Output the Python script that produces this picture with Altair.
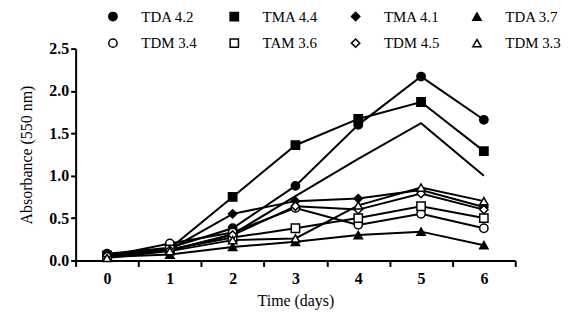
import altair as alt
import pandas as pd

days = [0, 1, 2, 3, 4, 5, 6]
names = ["TDA 4.2", "TMA 4.4", "TMA 4.1", "TDA 3.7", "TDM 3.4", "TAM 3.6", "TDM 4.5", "TDM 3.3"]
tda42 = [0.08, 0.15, 0.38, 0.88, 1.60, 2.17, 1.66]
tma44 = [0.06, 0.14, 0.75, 1.36, 1.67, 1.87, 1.29]
tma41 = [0.05, 0.13, 0.55, 0.70, 0.73, 0.83, 0.63]
tda37 = [0.04, 0.07, 0.16, 0.22, 0.30, 0.34, 0.18]
tdm34 = [0.05, 0.20, 0.33, 0.62, 0.42, 0.55, 0.38]
tam36 = [0.04, 0.13, 0.27, 0.38, 0.50, 0.64, 0.50]
tdm45 = [0.06, 0.12, 0.30, 0.64, 0.60, 0.79, 0.60]
tdm33 = [0.03, 0.11, 0.24, 0.26, 0.65, 0.86, 0.70]
unmarked = [0.05, 0.12, 0.31, 0.76, 1.20, 1.62, 1.00]

series = [tda42, tma44, tma41, tda37, tdm34, tam36, tdm45, tdm33]
shapes = ["circle", "square", "diamond", "triangle-up"] * 2
fills = ["black"] * 4 + ["white"] * 4

rows = []
for n, vals in zip(names, series):
    for d, v in zip(days, vals):
        rows.append({"day": d, "value": v, "series": n})
pts = pd.DataFrame(rows)
line_rows = rows + [{"day": d, "value": v, "series": "unlabelled"} for d, v in zip(days, unmarked)]
lines_df = pd.DataFrame(line_rows)

def arr(lst):
    return "[" + ",".join("'" + s + "'" for s in lst) + "]"

fill_expr = arr(fills) + "[indexof(" + arr(names) + ", datum.value)]"

FONT = "Liberation Serif"

xenc = alt.X(
    "day:O",
    scale=alt.Scale(type="band", paddingInner=0, paddingOuter=0),
    axis=alt.Axis(
        title="Time (days)", tickBand="extent", labelAngle=0,
        labelFontWeight="bold", labelFontSize=16, labelFont=FONT, labelColor="black",
        titleFont=FONT, titleFontSize=16, titleFontWeight="normal", titleColor="black",
        titlePadding=6, labelPadding=4, tickSize=6, tickWidth=2, domainWidth=2,
        tickColor="black", domainColor="black",
    ),
)
yenc = alt.Y(
    "value:Q",
    scale=alt.Scale(domain=[0, 2.5], nice=False),
    axis=alt.Axis(
        title="Absorbance (550 nm)", values=[0, 0.5, 1.0, 1.5, 2.0, 2.5], format=".1f",
        labelFontWeight="bold", labelFontSize=16, labelFont=FONT, labelColor="black",
        titleFont=FONT, titleFontSize=16, titleFontWeight="normal", titleColor="black",
        titlePadding=14, labelPadding=2, tickSize=5, tickWidth=2, domainWidth=2,
        tickColor="black", domainColor="black", grid=False,
    ),
)

line_layer = alt.Chart(lines_df).mark_line(color="black", strokeWidth=2).encode(
    x=xenc, y=yenc, detail="series:N"
)

legend = alt.Legend(
    orient="none", legendX=30, legendY=-40, direction="horizontal", columns=4,
    title=None, symbolSize=70, labelOffset=21, columnPadding=30, rowPadding=11,
    labelFont=FONT, labelFontSize=15, labelColor="black",
    symbolFillColor=alt.ExprRef(expr=fill_expr),
    symbolStrokeColor="black", symbolStrokeWidth=1.5, symbolOpacity=1,
)

point_layer = alt.Chart(pts).mark_point(filled=True, stroke="black", strokeWidth=1.5, size=70, opacity=1).encode(
    x=xenc, y=yenc,
    shape=alt.Shape("series:N", scale=alt.Scale(domain=names, range=shapes), legend=legend),
    fill=alt.Fill("series:N", scale=alt.Scale(domain=names, range=fills), legend=None),
)

chart = alt.layer(line_layer, point_layer).properties(
    width=442, height=213,
    padding={"left": 11, "top": 0, "right": 0, "bottom": 5},
).configure_view(stroke=None)

chart.save("out.html", embed_options={"renderer": "svg", "actions": False})
